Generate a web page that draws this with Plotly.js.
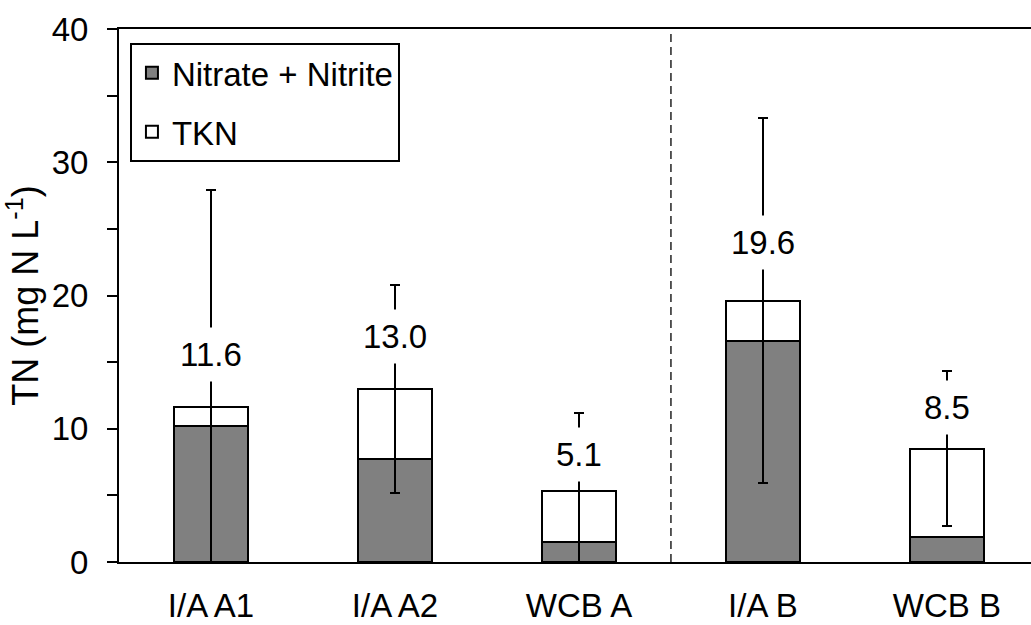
<!DOCTYPE html>
<html><head><meta charset="utf-8">
<script src="https://cdn.plot.ly/plotly-3.0.1.min.js"></script>
<style>html,body{margin:0;padding:0;background:#fff}</style>
</head><body><div id="chart" style="width:1031px;height:625px"></div>
<script>
const categories = ['I/A A1', 'I/A A2', 'WCB A', 'I/A B', 'WCB B'];
const nitrate = [10.2, 7.7, 1.5, 16.6, 1.9];
const tkn = [1.4, 5.3, 3.8, 3.0, 6.6];
const totalError = [16.3, 7.8, 5.9, 13.7, 5.8];
const totalLabels = ['11.6', '13.0', '5.1', '19.6', '8.5'];
const yTicks = [0, 10, 20, 30, 40];

const totals = nitrate.map((v, i) => v + tkn[i]);
const labelShift = [53, 52, 37, 58, 41];
const FONT = 'Liberation Sans, Arial, sans-serif';
const FS = 33;

const traces = [
  {
    type: 'bar', name: 'Nitrate + Nitrite', x: categories, y: nitrate,
    width: 0.4, legendgroup: 'a',
    marker: {color: '#808080', line: {color: '#000', width: 2}},
    hoverinfo: 'skip'
  },
  {
    type: 'bar', name: 'TKN', x: categories, y: tkn,
    width: 0.4, legendgroup: 'b',
    marker: {color: '#ffffff', line: {color: '#000', width: 2}},
    error_y: {type: 'data', array: totalError, symmetric: true, color: '#000', thickness: 2, width: 5},
    hoverinfo: 'skip'
  }
];

const annotations = categories.map((c, i) => ({
  x: c, y: totals[i], xref: 'x', yref: 'y', text: totalLabels[i],
  showarrow: false, yanchor: 'middle', yshift: labelShift[i],
  bgcolor: '#ffffff', borderpad: 8,
  font: {family: FONT, size: FS, color: '#000'}
}));

const layout = {
  width: 1031, height: 625,
  margin: {l: 119, r: 0, t: 29, b: 63},
  paper_bgcolor: '#fff', plot_bgcolor: '#fff',
  barmode: 'stack',
  font: {family: FONT, size: FS, color: '#000'},
  showlegend: true,
  legend: {
    x: 0.012, y: 0.974, xanchor: 'left', yanchor: 'top',
    bordercolor: '#000', borderwidth: 2, bgcolor: '#fff',
    traceorder: 'grouped', tracegroupgap: 13,
    entrywidth: 238, entrywidthmode: 'pixels',
    font: {family: FONT, size: FS, color: '#000'}
  },
  xaxis: {
    type: 'category', range: [-0.5, 4.457],
    showline: true, linecolor: '#000', linewidth: 2, mirror: true,
    ticks: '', showgrid: false, zeroline: false,
    ticklabelstandoff: 13,
    tickfont: {family: FONT, size: FS, color: '#000'}
  },
  yaxis: {
    range: [0, 40], tickvals: yTicks,
    showline: true, linecolor: '#000', linewidth: 2,
    ticks: 'outside', ticklen: 10, tickwidth: 2, tickcolor: '#000',
    minor: {dtick: 5, ticks: 'outside', ticklen: 10, tickwidth: 2, tickcolor: '#000', showgrid: false},
    showgrid: false, zeroline: false,
    ticklabelstandoff: 12,
    tickfont: {family: FONT, size: FS, color: '#000'},
    title: {text: 'TN (mg N L<sup>-1</sup>)', font: {family: FONT, size: 36, color: '#000'}, standoff: 12}
  },
  shapes: [{
    type: 'line', xref: 'x', yref: 'paper', x0: 2.5, x1: 2.5, y0: 0, y1: 1,
    line: {color: '#000', width: 1.3, dash: '8px,5px'}
  }],
  annotations: annotations
};

Plotly.newPlot('chart', traces, layout, {displayModeBar: false, staticPlot: true});
</script></body></html>
